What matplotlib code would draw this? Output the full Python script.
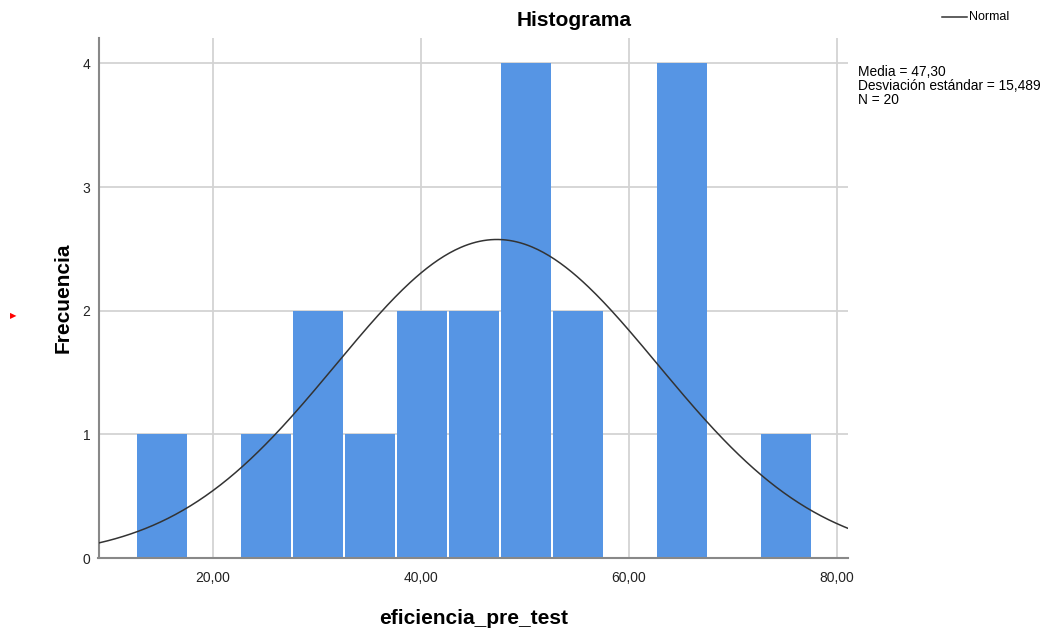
import numpy as np
import matplotlib
matplotlib.use("Agg")
import matplotlib.pyplot as plt

plt.rcParams['font.family'] = ['Liberation Sans', 'DejaVu Sans']

# histogram bins (width 5) and counts
bin_start = 12.5
bin_width = 5.0
counts = [1, 0, 1, 2, 1, 2, 2, 4, 2, 0, 4, 0, 1]

# summary stats printed by SPSS
media = 47.30
desv = 15.489
n = 20

xticks = [20, 40, 60, 80]
xtick_labels = ["20,00", "40,00", "60,00", "80,00"]
yticks = [0, 1, 2, 3, 4]


def normal_curve(x, mu, sd, total, width):
    """expected frequency per bin for a normal with the given stats"""
    return total * width / (sd * np.sqrt(2 * np.pi)) * np.exp(-0.5 * ((x - mu) / sd) ** 2)


fig = plt.figure(figsize=(10.51, 6.28), dpi=100)
ax = fig.add_axes([98.5 / 1051, 70 / 628, (848 - 98.5) / 1051, (558 - 38) / 628])

# SPSS leaves a thin white gap on the left of each bar, no outline on top
gap = 0.22
lefts = bin_start + bin_width * np.arange(len(counts))
ax.bar(lefts + gap, counts, width=bin_width - gap, align="edge",
       color="#5695E4", linewidth=0, zorder=2)

xs = np.linspace(9, 81, 400)
ax.plot(xs, normal_curve(xs, media, desv, n, bin_width), color="#333333",
        linewidth=1.1, zorder=3)

ax.set_xlim(9, 81.05)
ax.set_ylim(0, 4.205)
ax.set_xticks(xticks)
ax.set_xticklabels(xtick_labels)
ax.set_yticks(yticks)
ax.tick_params(length=0, labelsize=10, colors="#222222")
ax.tick_params(axis="y", pad=6)
ax.tick_params(axis="x", pad=9)
ax.grid(True, color="#d3d3d3", linewidth=1.3, zorder=0)
ax.set_axisbelow(True)
for side in ["top", "right"]:
    ax.spines[side].set_visible(False)
for side in ["left", "bottom"]:
    ax.spines[side].set_color("#888888")
    ax.spines[side].set_linewidth(1.5)

ax.set_xlabel("eficiencia_pre_test", fontsize=15, fontweight="bold", labelpad=18)
ax.set_ylabel("Frecuencia", fontsize=15, fontweight="bold", labelpad=7)

fig.text(574 / 1051, 1 - 20 / 628, "Histograma", ha="center", va="center",
         fontsize=15, fontweight="bold")

# legend for the normal curve, drawn like SPSS
fig.add_artist(plt.Line2D([942 / 1051, 967 / 1051], [1 - 17 / 628, 1 - 17 / 628],
                          color="#333333", linewidth=1.1))
fig.text(969 / 1051, 1 - 17 / 628, "Normal", ha="left", va="center", fontsize=9)

fig.text(858 / 1051, 1 - 65 / 628,
         f"Media = {media:.2f}".replace(".", ",") + "\n"
         + f"Desviación estándar = {desv:.3f}".replace(".", ",") + "\n"
         + f"N = {n}",
         ha="left", va="top", fontsize=9.9, linespacing=1.0)

fig.text(13 / 1051, 1 - 316 / 628, "▶", color="red", fontsize=6,
         ha="center", va="center", family=["DejaVu Sans"])

fig.savefig("out.png", dpi=100)
